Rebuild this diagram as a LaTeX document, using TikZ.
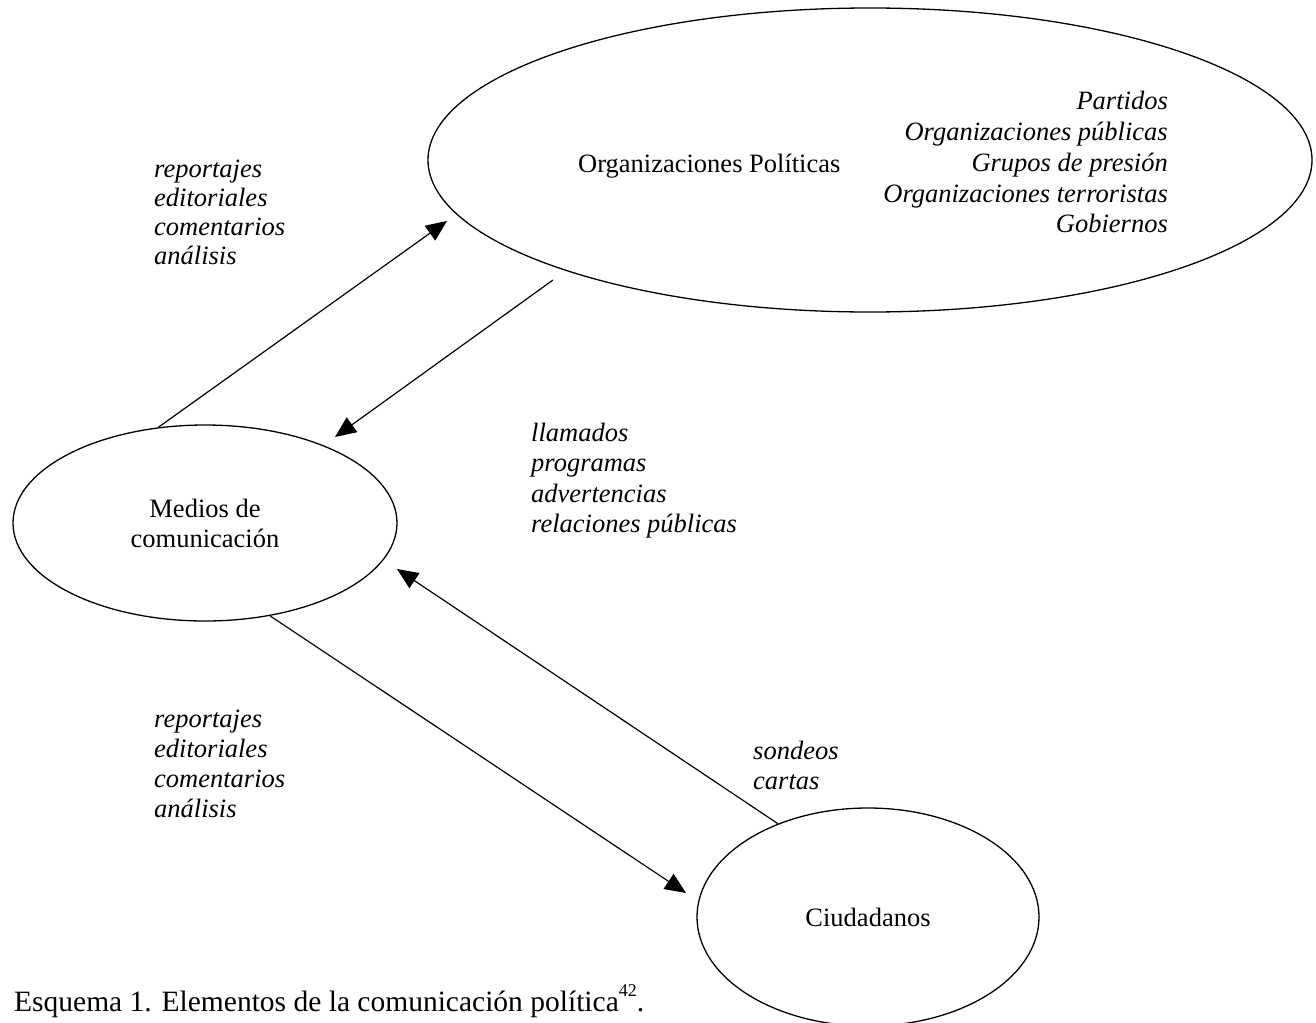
\documentclass[tikz,border=0pt]{standalone}
\usepackage{fontspec}
\setmainfont{Liberation Serif}
\usetikzlibrary{shapes.geometric,arrows.meta}
\begin{document}
\begin{tikzpicture}[x=1pt,y=1pt,
  ell/.style={ellipse, draw, line width=1.3pt, inner sep=0pt, align=center,
    font=\fontsize{26.5}{30}\selectfont},
  conn/.style={line width=1.2pt, -{Triangle[length=21pt,width=18pt]}},
  itl/.style={font=\fontsize{26.5}{30}\selectfont\itshape, inner sep=0pt, anchor=base west},
  itr/.style={font=\fontsize{26.5}{30}\selectfont\itshape, inner sep=0pt, anchor=base east},
  rm/.style={font=\fontsize{26.5}{30}\selectfont, inner sep=0pt, anchor=base west}]
\useasboundingbox (0,0) rectangle (1316,-1022);
% ellipses
\node[ell, minimum width=884pt, minimum height=304pt] (org) at (870,-160) {};
\node[ell, minimum width=384pt, minimum height=196pt] (med) at (205,-523) {Medios de\\comunicación};
\node[ell, minimum width=342pt, minimum height=218pt] (ciu) at (868,-917) {Ciudadanos};
% texts in top ellipse
\node[rm] (orgt) at (578,-172) {Organizaciones Políticas};
\foreach \t [count=\i] in {Partidos, Organizaciones públicas, Grupos de presión, Organizaciones terroristas, Gobiernos}
  \node[itr] (ol\i) at (1168,{-110-30.7*(\i-1)}) {\t};
% labels
\foreach \t [count=\i] in {reportajes, editoriales, comentarios, análisis}
  \node[itl] (ra\i) at (154,{-177-29*(\i-1)}) {\t};
\foreach \t [count=\i] in {llamados, programas, advertencias, relaciones públicas}
  \node[itl] (ll\i) at (531,{-441-30.5*(\i-1)}) {\t};
\foreach \t [count=\i] in {reportajes, editoriales, comentarios, análisis}
  \node[itl] (rb\i) at (154,{-727-30.3*(\i-1)}) {\t};
\foreach \t [count=\i] in {sondeos, cartas}
  \node[itl] (so\i) at (753,{-759-30*(\i-1)}) {\t};
% caption
\node[rm, font=\fontsize{29.5}{32}\selectfont] (cap) at (14,-1011) {Esquema 1. Elementos de la comunicación política\raisebox{0.5em}{\fontsize{18}{20}\selectfont 42}.};
% free ends
\coordinate (e1) at (447,-221);
\coordinate (s2) at (553,-280);
\coordinate (e2) at (335,-437);
\coordinate (e3) at (397,-569);
\coordinate (e4) at (686,-893);
% connectors
\draw[conn] (med.116.3) -- (e1);
\draw[conn] (s2) -- (e2);
\draw[conn] (ciu.134.7) -- (e3);
\draw[conn] (med.305.2) -- (e4);
\end{tikzpicture}
\end{document}
